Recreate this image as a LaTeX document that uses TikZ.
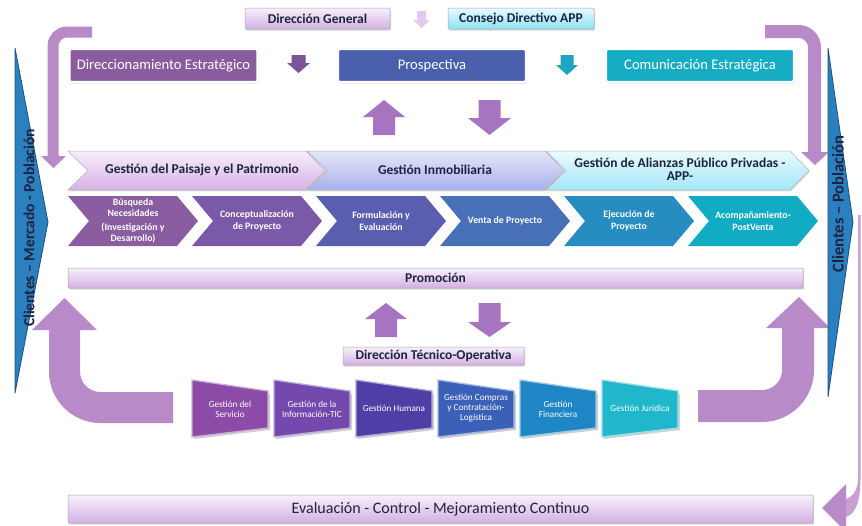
\documentclass[tikz,border=0pt]{standalone}
\usepackage{fontspec}
\setmainfont{Carlito}
\usetikzlibrary{shadows}

\definecolor{ink}{HTML}{1E2440}
\definecolor{lavTop}{HTML}{F8F0FC}
\definecolor{lavBot}{HTML}{D2B0E2}
\definecolor{cyTop}{HTML}{E8FCFF}
\definecolor{cyBot}{HTML}{8CE0F2}
\definecolor{dirEst}{HTML}{8A5C9E}
\definecolor{prosp}{HTML}{4A60AC}
\definecolor{comEst}{HTML}{16ACC4}
\definecolor{arrPale}{HTML}{E2CAEE}
\definecolor{arrPurp}{HTML}{7B5499}
\definecolor{arrTeal}{HTML}{1CA6BF}
\definecolor{arrMid}{HTML}{A674C1}
\definecolor{bandCol}{HTML}{B98AC8}
\definecolor{cAt}{HTML}{F7EDFB}\definecolor{cAb}{HTML}{D6B3E5}
\definecolor{cBt}{HTML}{E6E6FA}\definecolor{cBb}{HTML}{A7B2EC}
\definecolor{cCt}{HTML}{EAFBFF}\definecolor{cCb}{HTML}{A2E6F6}
\definecolor{rA}{HTML}{8A5CA0}\definecolor{rB}{HTML}{7A5AA8}
\definecolor{rC}{HTML}{5A5EAE}\definecolor{rD}{HTML}{4870B6}
\definecolor{rE}{HTML}{278DC0}\definecolor{rF}{HTML}{12ABC4}
\definecolor{bA}{HTML}{8B4BA6}\definecolor{bB}{HTML}{7449AE}
\definecolor{bC}{HTML}{4E3FA6}\definecolor{bD}{HTML}{3A60B8}
\definecolor{bE}{HTML}{1E86C4}\definecolor{bF}{HTML}{20B6CC}
\definecolor{cliFill}{HTML}{2B80BF}
\definecolor{cliEdge}{HTML}{1C4F7C}

% downward block arrow: centre x, top y, tip y, shaft width, head width, head length, colour
\newcommand{\dnblk}[7]{%
  \fill[#7] ({#1-#4/2},#2) -- ({#1+#4/2},#2) -- ({#1+#4/2},{#3-#6}) -- ({#1+#5/2},{#3-#6})
    -- (#1,#3) -- ({#1-#5/2},{#3-#6}) -- ({#1-#4/2},{#3-#6}) -- cycle;}
% upward block arrow: centre x, bottom y, tip y, shaft width, head width, head length, colour
\newcommand{\upblk}[7]{%
  \fill[#7] ({#1-#4/2},#2) -- ({#1+#4/2},#2) -- ({#1+#4/2},{#3+#6}) -- ({#1+#5/2},{#3+#6})
    -- (#1,#3) -- ({#1-#5/2},{#3+#6}) -- ({#1-#4/2},{#3+#6}) -- cycle;}

\tikzset{
  softshadow/.style={drop shadow={opacity=0.3, shadow xshift=1.2pt, shadow yshift=-1.6pt}},
  lavbar/.style={draw=black!35, line width=0.5pt, top color=lavTop, bottom color=lavBot,
    rounded corners=1pt, softshadow, inner sep=0pt, text=ink},
  hdr/.style={lavbar, font=\bfseries\fontsize{13.5}{15}\selectfont},
  topbox/.style={draw=white, line width=2.2pt, rounded corners=2pt, text=white,
    minimum width=188pt, minimum height=33pt, inner sep=0pt,
    font=\fontsize{14.6}{16}\selectfont,
    drop shadow={opacity=0.25, shadow xshift=1pt, shadow yshift=-1.5pt}},
  bigtxt/.style={text=ink, font=\bfseries\fontsize{13.5}{13}\selectfont, align=center},
  smalltxt/.style={text=white, font=\bfseries\fontsize{9.8}{11.5}\selectfont, align=center},
  boxtxt/.style={text=white, font=\fontsize{9.2}{10}\selectfont, align=center},
  clitxt/.style={text=ink, font=\bfseries\fontsize{15.5}{17}\selectfont, rotate=90},
}

\begin{document}
\begin{tikzpicture}[x=1pt,y=-1pt]
\useasboundingbox[fill=white] (0,0) rectangle (862,525);

% ---- management level -------------------------------------------------
\node[hdr, minimum width=145pt, minimum height=21pt] (dg) at (317.5,18.5) {Dirección General};
\node[hdr, top color=cyTop, bottom color=cyBot, minimum width=146pt, minimum height=21pt]
  (cd) at (521,18.5) {Consejo Directivo APP};
\dnblk{421.5}{11}{28}{9}{17}{8}{arrPale}

\node[topbox, fill=dirEst] (de) at (163.5,65.5) {Direccionamiento Estratégico};
\node[topbox, fill=prosp]  (pr) at (432,65.5) {Prospectiva};
\node[topbox, fill=comEst] (ce) at (700,65.5) {Comunicación Estratégica};
\dnblk{298.5}{55}{73}{14}{23}{10}{arrPurp}
\dnblk{567}{55}{75}{13}{22}{10}{arrTeal}

\upblk{384}{135}{100}{22}{42}{17}{arrMid}
\dnblk{489.5}{100}{135}{22}{43}{17}{arrMid}

% ---- bracket arrows down to the process line ---------------------------
\draw[bandCol, line width=11pt, rounded corners=14pt] (92,32) -| (53,157);
\fill[bandCol] (41,156) -- (66,156) -- (53.5,168) -- cycle;
\draw[bandCol, line width=13pt, rounded corners=16pt] (765,31.5) -| (814.5,153);
\fill[bandCol] (801,152) -- (829,152) -- (815,165) -- cycle;

% ---- business lines (large chevrons) -----------------------------------
\foreach \L/\W/\ct/\cb in {68/257/cAt/cAb, 307/257/cBt/cBb, 546/263/cCt/cCb}{
  \path[draw=black!30, line width=0.5pt, top color=\ct, bottom color=\cb,
        drop shadow={opacity=0.25, shadow xshift=1pt, shadow yshift=-1.4pt}]
    (\L,151) -- ({\L+\W-19},151) -- ({\L+\W},170.5) -- ({\L+\W-19},190)
    -- (\L,190) -- ({\L+20},170.5) -- cycle;
}
\node[bigtxt] (gp) at (202,170) {Gestión del Paisaje y el Patrimonio};
\node[bigtxt] (gi) at (435,170) {Gestión Inmobiliaria};
\node[bigtxt] (ga) at (680,169.5) {Gestión de Alianzas Público Privadas -\\APP-};

% ---- project cycle (small chevrons) ------------------------------------
\foreach \i/\c in {0/rA, 1/rB, 2/rC, 3/rD, 4/rE, 5/rF}{
  \pgfmathsetmacro{\L}{68+124*\i}
  \fill[\c] (\L,196) -- ({\L+109},196) -- ({\L+130},221) -- ({\L+109},246)
    -- (\L,246) -- ({\L+21},221) -- cycle;
}
\node[smalltxt] (p1) at (133,221) {Búsqueda\\Necesidades\\[2pt](Investigación y\\Desarrollo)};
\node[smalltxt] (p2) at (257,221) {Conceptualización\\de Proyecto};
\node[smalltxt] (p3) at (381,221) {Formulación y\\Evaluación};
\node[smalltxt] (p4) at (505,221) {Venta de Proyecto};
\node[smalltxt] (p5) at (629,221) {Ejecución de\\Proyecto};
\node[smalltxt] (p6) at (753,221) {Acompañamiento-\\PostVenta};

% ---- promotion ---------------------------------------------------------
\node[lavbar, minimum width=735pt, minimum height=20pt,
      font=\bfseries\fontsize{13.5}{15}\selectfont] (prom) at (435.5,278) {Promoción};

\upblk{386}{337}{303}{22}{42}{16}{arrMid}
\dnblk{489.5}{303}{337}{22}{43}{15}{arrMid}

\node[hdr, minimum width=181pt, minimum height=18pt] (dto) at (433.5,356) {Dirección Técnico-Operativa};

% ---- support processes (bevelled panels) -------------------------------
\foreach \i/\c in {0/bA, 1/bB, 2/bC, 3/bD, 4/bE, 5/bF}{
  \pgfmathsetmacro{\L}{192+82*\i}
  \fill[black, opacity=0.18] ({\L+2},382) -- ({\L+78},394) -- ({\L+78},430) -- ({\L+2},439) -- cycle;
  \path[fill=\c, draw=\c!45!white, line width=1.3pt]
    (\L,380) -- ({\L+76},391) -- ({\L+76},428) -- (\L,437) -- cycle;
}
\node[boxtxt] (s1) at (230,409) {Gestión del\\Servicio};
\node[boxtxt] (s2) at (312,409) {Gestión de la\\Información-TIC};
\node[boxtxt] (s3) at (394,408) {Gestión Humana};
\node[boxtxt] (s4) at (476,408) {Gestión Compras\\y Contratación-\\Logística};
\node[boxtxt] (s5) at (558,409) {Gestión\\Financiera};
\node[boxtxt] (s6) at (640,408) {Gestión Jurídica};

% ---- large return arrows -----------------------------------------------
\draw[bandCol, line width=31pt, rounded corners=36pt] (173,407.5) -| (64.5,329);
\fill[bandCol] (32,330) -- (97,330) -- (64.5,298) -- cycle;
\draw[bandCol, line width=32pt, rounded corners=36pt] (698,406) -| (798,328);
\fill[bandCol] (766,328) -- (830,328) -- (799,297) -- cycle;

% ---- market triangles --------------------------------------------------
\path[fill=cliFill, draw=cliEdge, line width=0.8pt] (15,48) -- (48,222) -- (15,393) -- cycle;
\node[clitxt] (cli1) at (29,228) {Clientes – Mercado - Población};
\path[fill=cliFill, draw=cliEdge, line width=0.8pt] (828,48) -- (853,222) -- (828,397) -- cycle;
\node[clitxt, font=\bfseries\fontsize{16.5}{18}\selectfont] (cli2) at (838,204) {Clientes – Población};

% ---- continuous improvement --------------------------------------------
\fill[bandCol!80!white] (858,215) -- (860.5,215) -- (860.5,478)
  .. controls (860.5,503) and (855,514) .. (846,517) -- (846,499)
  .. controls (852,497) and (858,491) .. (858,478) -- cycle;
\fill[bandCol] (846,484) -- (846,532) -- (822,508) -- cycle;
\node[lavbar, minimum width=745pt, minimum height=28pt,
      font=\fontsize{16}{18}\selectfont] (ev) at (440.5,509)
  {Evaluación - Control - Mejoramiento Continuo};
\end{tikzpicture}
\end{document}
